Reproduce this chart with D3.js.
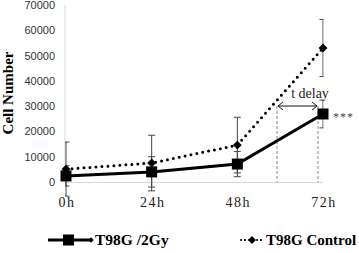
<!DOCTYPE html>
<html>
<head>
<meta charset="utf-8">
<style>
    body { margin: 0; background: #fff; }
    svg { display: block; }
    .tick-y { font-family: 'Liberation Sans', Arial, sans-serif; font-size: 11px; fill: #333; }
    .tick-x { font-family: 'Liberation Serif', 'Times New Roman', serif; font-size: 14px; letter-spacing: 1.5px; fill: #222; }
    .serif { font-family: 'Liberation Serif', 'Times New Roman', serif; }
</style>
</head>
<body>
<svg width="359" height="253"></svg>
<script src="https://d3js.org/d3.v7.min.js"></script>
<script>
    // data
    let times = ["0h", "24h", "48h", "72h"];
    let gyValues = [2400, 4000, 7100, 26900];
    let gyErrors = [4000, 6000, 5000, 5500];
    let ctrlValues = [5100, 7500, 14600, 53000];
    let ctrlErrors = [10700, 11000, 11000, 11300];
    let yTicks = [0, 10000, 20000, 30000, 40000, 50000, 60000, 70000];

    let svg = d3.select("svg");

    let x = d3.scalePoint().domain(times).range([66, 323]);
    let y = d3.scaleLinear().domain([0, 70000]).range([182, 5]);

    // clip area for error bars (plot area)
    svg.append("clipPath").attr("id", "plot")
        .append("rect").attr("x", 65).attr("y", 0).attr("width", 258.5).attr("height", 253);

    // axes
    svg.append("line")
        .attr("x1", 65).attr("x2", 65).attr("y1", y(70000)).attr("y2", y(0))
        .style("stroke", "#d9d9d9").style("stroke-width", 1);
    svg.append("line")
        .attr("x1", 65).attr("x2", 323).attr("y1", y(0) + 0.5).attr("y2", y(0) + 0.5)
        .style("stroke", "#d9d9d9").style("stroke-width", 1);

    svg.selectAll(".tick-y")
        .data(yTicks)
        .join("text")
        .attr("class", "tick-y")
        .attr("x", 55)
        .attr("y", d => y(d) + 4)
        .attr("text-anchor", "end")
        .text(d => d);

    svg.selectAll(".tick-x")
        .data(times)
        .join("text")
        .attr("class", "tick-x")
        .attr("x", d => x(d) + 1)
        .attr("y", 207)
        .attr("text-anchor", "middle")
        .text(d => d);

    svg.append("text")
        .attr("class", "serif")
        .attr("transform", "translate(13,93) rotate(-90)")
        .attr("text-anchor", "middle")
        .style("font-size", "15px")
        .style("font-weight", "bold")
        .text("Cell Number");

    // t delay annotation
    let ax1 = 277, ax2 = 318, ay = 106;
    [ax1, ax2].forEach(function (d) {
        svg.append("line")
            .attr("x1", d).attr("x2", d).attr("y1", ay).attr("y2", y(0))
            .style("stroke", "#888").style("stroke-width", 1)
            .style("stroke-dasharray", "3,2");
    });
    svg.append("line")
        .attr("x1", ax1 + 1).attr("x2", ax2 - 1).attr("y1", ay).attr("y2", ay)
        .style("stroke", "#111").style("stroke-width", 1);
    svg.append("path")
        .attr("d", `M${ax1 + 6},${ay - 4} L${ax1 + 1},${ay} L${ax1 + 6},${ay + 4} M${ax2 - 6},${ay - 4} L${ax2 - 1},${ay} L${ax2 - 6},${ay + 4}`)
        .style("fill", "none").style("stroke", "#111").style("stroke-width", 1);
    svg.append("text")
        .attr("class", "serif")
        .attr("x", 310).attr("y", 98)
        .attr("text-anchor", "middle")
        .style("font-size", "14px")
        .style("fill", "#222")
        .text("t delay");

    // error bars
    function errorBars(values, errors, cls) {
        let g = svg.append("g").attr("clip-path", "url(#plot)");
        values.forEach(function (v, i) {
            let cx = x(times[i]);
            let top = y(v + errors[i]);
            let bot = y(v - errors[i]);
            g.append("path")
                .attr("class", cls)
                .attr("d", `M${cx},${top} L${cx},${bot} M${cx - 3.5},${top} L${cx + 3.5},${top} M${cx - 3.5},${bot} L${cx + 3.5},${bot}`)
                .style("fill", "none").style("stroke", "#444").style("stroke-width", 1);
        });
    }
    errorBars(ctrlValues, ctrlErrors, "err-ctrl");
    errorBars(gyValues, gyErrors, "err-gy");

    let line = d3.line().x((d, i) => x(times[i])).y(d => y(d));

    // control dotted line
    svg.append("path")
        .attr("d", line(ctrlValues))
        .style("fill", "none").style("stroke", "#000")
        .style("stroke-width", 3)
        .style("stroke-linecap", "round")
        .style("stroke-dasharray", "0,6");

    // 2Gy solid line
    svg.append("path")
        .attr("d", line(gyValues))
        .style("fill", "none").style("stroke", "#000")
        .style("stroke-width", 3);

    let diamond = d3.symbol().type(d3.symbolDiamond2).size(50);

    svg.selectAll(".ctrl-pt")
        .data(ctrlValues)
        .join("path")
        .attr("class", "ctrl-pt")
        .attr("d", diamond)
        .attr("transform", (d, i) => `translate(${x(times[i])},${y(d)})`)
        .style("fill", "#000");

    svg.selectAll(".gy-pt")
        .data(gyValues)
        .join("rect")
        .attr("class", "gy-pt")
        .attr("x", (d, i) => x(times[i]) - 5.5)
        .attr("y", d => y(d) - 5.5)
        .attr("width", 11).attr("height", 11)
        .style("fill", "#000");

    svg.append("text")
        .attr("x", 333).attr("y", y(gyValues[3]) + 7)
        .style("font-family", "'Liberation Serif', serif")
        .style("font-size", "12px")
        .style("letter-spacing", "1px")
        .style("fill", "#444")
        .text("***");

    // legend
    let ly = 240;
    svg.append("line")
        .attr("x1", 48).attr("x2", 90).attr("y1", ly).attr("y2", ly)
        .style("stroke", "#000").style("stroke-width", 3);
    svg.append("rect")
        .attr("x", 63).attr("y", ly - 5.5).attr("width", 11).attr("height", 11)
        .style("fill", "#000");
    svg.append("path")
        .attr("d", d3.symbol().type(d3.symbolDiamond2).size(18))
        .attr("transform", `translate(91,${ly})`)
        .style("fill", "#000");
    svg.append("text")
        .attr("class", "serif")
        .attr("x", 95).attr("y", ly + 5)
        .style("font-size", "15.5px").style("font-weight", "bold")
        .text("T98G /2Gy");

    svg.append("line")
        .attr("x1", 241).attr("x2", 264).attr("y1", ly).attr("y2", ly)
        .style("stroke", "#000").style("stroke-width", 2.2)
        .style("stroke-linecap", "round")
        .style("stroke-dasharray", "0,4");
    svg.append("path")
        .attr("d", d3.symbol().type(d3.symbolDiamond2).size(40))
        .attr("transform", `translate(252,${ly})`)
        .style("fill", "#000");
    svg.append("text")
        .attr("class", "serif")
        .attr("x", 266).attr("y", ly + 5)
        .style("font-size", "15px").style("font-weight", "bold")
        .text("T98G Control");
</script>
</body>
</html>
